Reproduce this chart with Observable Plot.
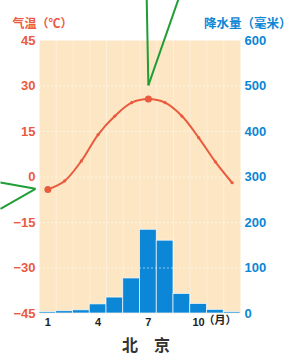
<!DOCTYPE html>
<html><head><meta charset="utf-8">
<script src="https://cdn.jsdelivr.net/npm/d3@7"></script>
<script src="https://cdn.jsdelivr.net/npm/@observablehq/plot@0.6"></script>
<style>body{margin:0;background:#fff;}</style>
</head><body><div id="chart"></div>
<script>
const months = [1,2,3,4,5,6,7,8,9,10,11,12];
const temperature = [-4.1,-1.3,5.3,14.0,20.1,24.5,25.7,24.5,20.1,13.0,5.0,-1.9];
const precipitation = [3,5,7,20,35,77,184,160,43,21,8,3];
const tempTicks = [-45,-30,-15,0,15,30,45];
const precipTicks = [0,100,200,300,400,500,600];
const monthTicks = [1,4,7,10];
const cityName = "北　京";
const tempTitle = "气温（℃）";
const precipTitle = "降水量（毫米）";
const monthUnit = "（月）";

const red = "#ea5a3f", blue = "#0c86d6", green = "#1f9e36";
const toT = p => -45 + p * 90 / 600;
const data = months.map((m, i) => ({m, t: temperature[i], p: precipitation[i]}));

const iMax = d3.maxIndex(temperature), iMin = d3.minIndex(temperature);
const maxPt = {x: months[iMax], y: temperature[iMax]};
const minPt = {x: months[iMin], y: temperature[iMin]};
const calloutLinks = [
  {x1: maxPt.x, y1: maxPt.y + 4.5, x2: maxPt.x - 0.1, y2: maxPt.y + 33},
  {x1: maxPt.x, y1: maxPt.y + 4.5, x2: maxPt.x + 1.8, y2: maxPt.y + 33},
  {x1: minPt.x - 0.74, y1: minPt.y + 0.2, x2: minPt.x - 2.83, y2: minPt.y + 2.3},
  {x1: minPt.x - 0.74, y1: minPt.y + 0.2, x2: minPt.x - 2.83, y2: minPt.y - 6.4}
];

const chart = Plot.plot({
  width: 291, height: 360,
  marginTop: 40, marginBottom: 47, marginLeft: 39, marginRight: 51,
  style: {fontFamily: "'Liberation Sans', 'Noto Sans CJK SC', sans-serif", background: "#fff"},
  x: {domain: [0.5, 12.5]},
  y: {domain: [-45, 45]},
  marks: [
    Plot.frame({fill: "#fde6c3", stroke: null}),
    Plot.gridX(d3.range(1.5, 12.5, 1), {stroke: "#fff", strokeOpacity: 0.35}),
    Plot.rect(data, {x1: d => d.m - 0.5, x2: d => d.m + 0.5, y1: -45, y2: d => toT(d.p),
      fill: blue, stroke: "#fff", strokeWidth: 0.8, strokeOpacity: 0.85}),
    Plot.gridY(tempTicks.slice(1, -1), {stroke: "#fff", strokeOpacity: 0.55, strokeDasharray: "2,2"}),
    Plot.line(data, {x: "m", y: "t", stroke: red, strokeWidth: 2, curve: "catmull-rom"}),
    Plot.dot(data, {x: "m", y: "t", fill: red, r: 1.6}),
    Plot.dot([maxPt, minPt], {x: "x", y: "y", fill: red, r: 3.5}),
    Plot.link(calloutLinks, {x1: "x1", y1: "y1", x2: "x2", y2: "y2", stroke: green, strokeWidth: 2, clip: false}),
    Plot.axisY({ticks: tempTicks, tickSize: 0, tickPadding: 4, label: null,
      fill: red, fontSize: 13, fontWeight: "bold", style: {letterSpacing: "-1px"}}),
    Plot.axisY({anchor: "right", ticks: precipTicks.map(toT), tickSize: 0, tickPadding: 4, label: null,
      tickFormat: d => String(Math.round((d + 45) * 600 / 90)),
      fill: blue, fontSize: 13, fontWeight: "bold"}),
    Plot.axisX({ticks: monthTicks, tickSize: 0, tickPadding: 5, label: null,
      fill: "#222", fontSize: 11, fontWeight: "bold"}),
    Plot.text([monthUnit], {frameAnchor: "bottom-right", dx: -4, dy: 10, textAnchor: "end",
      fill: "#222", fontSize: 11, fontWeight: "bold", fontFamily: "'Noto Sans CJK SC', sans-serif"}),
    Plot.text([tempTitle], {frameAnchor: "top-left", dx: -27, dy: -21, textAnchor: "start",
      fill: red, fontSize: 12, fontWeight: "bold", fontFamily: "'Noto Sans CJK SC', sans-serif"}),
    Plot.text([precipTitle], {frameAnchor: "top-right", dx: 51, dy: -21, textAnchor: "end",
      fill: blue, fontSize: 12.5, fontWeight: "bold", fontFamily: "'Noto Sans CJK SC', sans-serif"}),
    Plot.text([cityName], {frameAnchor: "bottom", dx: 6, dy: 37,
      fill: "#333", fontSize: 16, fontWeight: "bold", fontFamily: "'Noto Sans CJK SC', sans-serif"})
  ]
});
document.getElementById("chart").appendChild(chart);
</script>
</body></html>
